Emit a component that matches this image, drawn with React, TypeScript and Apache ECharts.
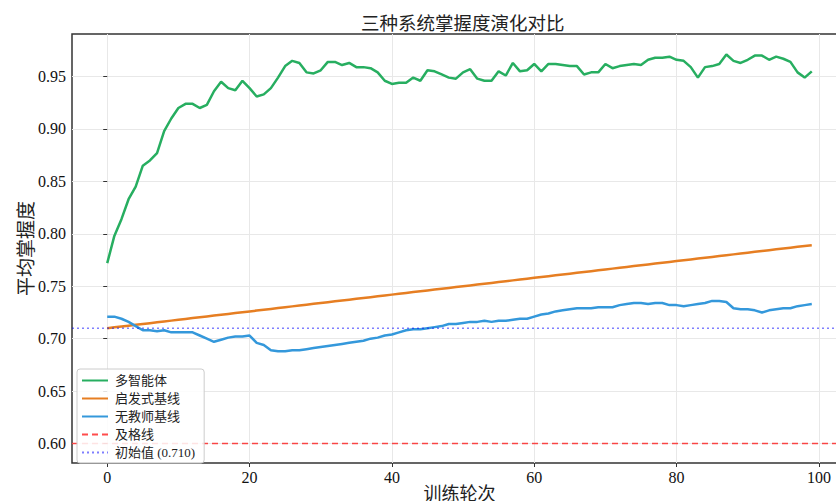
import React, { useEffect, useRef } from "react";
import * as echarts from "echarts";

const TITLE = "三种系统掌握度演化对比";
const X_NAME = "训练轮次";
const Y_NAME = "平均掌握度";
const X_TICKS = [0, 20, 40, 60, 80, 100];
const Y_TICKS = [0.6, 0.65, 0.7, 0.75, 0.8, 0.85, 0.9, 0.95];
const PASS_LINE = 0.6;
const INIT_VALUE = 0.71;

const multiAgent = [
  0.772, 0.798, 0.814, 0.833, 0.845, 0.865, 0.870, 0.877, 0.898, 0.910,
  0.920, 0.924, 0.924, 0.920, 0.923, 0.936, 0.945, 0.939, 0.937, 0.946,
  0.939, 0.931, 0.933, 0.939, 0.949, 0.960, 0.965, 0.963, 0.954, 0.953,
  0.956, 0.964, 0.964, 0.961, 0.963, 0.959, 0.959, 0.958, 0.954, 0.946,
  0.943, 0.944, 0.944, 0.949, 0.946, 0.956, 0.955, 0.952, 0.949, 0.948,
  0.954, 0.957, 0.948, 0.946, 0.946, 0.955, 0.951, 0.963, 0.955, 0.956,
  0.962, 0.955, 0.962, 0.962, 0.961, 0.960, 0.960, 0.952, 0.954, 0.954,
  0.962, 0.958, 0.960, 0.961, 0.962, 0.961, 0.966, 0.968, 0.968, 0.969,
  0.966, 0.965, 0.959, 0.949, 0.959, 0.960, 0.962, 0.971, 0.965, 0.963,
  0.966, 0.970, 0.970, 0.966, 0.969, 0.967, 0.964, 0.954, 0.949, 0.955,
];

const heuristic = [
  0.7100, 0.7108, 0.7116, 0.7124, 0.7132, 0.7140, 0.7148, 0.7156, 0.7164, 0.7172,
  0.7180, 0.7188, 0.7196, 0.7204, 0.7212, 0.7220, 0.7228, 0.7236, 0.7244, 0.7252,
  0.7260, 0.7268, 0.7276, 0.7284, 0.7292, 0.7300, 0.7308, 0.7316, 0.7324, 0.7332,
  0.7340, 0.7348, 0.7356, 0.7364, 0.7372, 0.7380, 0.7388, 0.7396, 0.7404, 0.7412,
  0.7420, 0.7428, 0.7436, 0.7444, 0.7452, 0.7460, 0.7468, 0.7476, 0.7484, 0.7492,
  0.7500, 0.7508, 0.7516, 0.7524, 0.7532, 0.7540, 0.7548, 0.7556, 0.7564, 0.7572,
  0.7580, 0.7588, 0.7596, 0.7604, 0.7612, 0.7620, 0.7628, 0.7636, 0.7644, 0.7652,
  0.7660, 0.7668, 0.7676, 0.7684, 0.7692, 0.7700, 0.7708, 0.7716, 0.7724, 0.7732,
  0.7740, 0.7748, 0.7756, 0.7764, 0.7772, 0.7780, 0.7788, 0.7796, 0.7804, 0.7812,
  0.7820, 0.7828, 0.7836, 0.7844, 0.7852, 0.7860, 0.7868, 0.7876, 0.7884, 0.7892,
];

const noTeacher = [
  0.721, 0.721, 0.719, 0.716, 0.712, 0.708, 0.708, 0.707, 0.708, 0.706,
  0.706, 0.706, 0.706, 0.703, 0.700, 0.697, 0.699, 0.701, 0.702, 0.702,
  0.703, 0.696, 0.694, 0.689, 0.688, 0.688, 0.689, 0.689, 0.690, 0.691,
  0.692, 0.693, 0.694, 0.695, 0.696, 0.697, 0.698, 0.700, 0.701, 0.703,
  0.704, 0.706, 0.708, 0.709, 0.709, 0.710, 0.711, 0.712, 0.714, 0.714,
  0.715, 0.716, 0.716, 0.717, 0.716, 0.717, 0.717, 0.718, 0.719, 0.719,
  0.721, 0.723, 0.724, 0.726, 0.727, 0.728, 0.729, 0.729, 0.729, 0.730,
  0.730, 0.730, 0.732, 0.733, 0.734, 0.734, 0.733, 0.734, 0.734, 0.732,
  0.732, 0.731, 0.732, 0.733, 0.734, 0.736, 0.736, 0.735, 0.729, 0.728,
  0.728, 0.727, 0.725, 0.727, 0.728, 0.729, 0.729, 0.731, 0.732, 0.733,
];

const X_MIN = -4.95;
const X_MAX = 103.95;
const Y_MIN = 0.5814;
const Y_MAX = 0.9906;

const SERIF = "'Liberation Serif', 'Times New Roman', 'Noto Sans CJK SC', serif";
const CJK = "'Noto Sans CJK SC', 'Liberation Serif', sans-serif";

export default function App() {
  const ref = useRef<HTMLDivElement>(null);
  useEffect(() => {
    document.body.style.margin = "0";
    document.body.style.overflow = "hidden";
    const chart = echarts.init(ref.current!, null, { renderer: "svg" });
    const toPairs = (arr: number[]) => arr.map((v, i) => [i, v]);
    const option: any = {
      animation: false,
      backgroundColor: "#ffffff",
      title: {
        text: TITLE,
        left: 356,
        top: 8,
        textStyle: { fontFamily: CJK, fontSize: 18.5, fontWeight: "normal", color: "#222" },
      },
      grid: {
        left: 72,
        top: 34,
        bottom: 38,
        right: 3,
        show: true,
        borderColor: "#333",
        borderWidth: 1.5,
        backgroundColor: "transparent",
        containLabel: false,
        outerBoundsMode: "none",
      },
      legend: {
        orient: "vertical",
        left: 77,
        top: 369,
        itemWidth: 26,
        itemHeight: 12,
        itemGap: 5,
        padding: [5, 9, 4, 4],
        backgroundColor: "rgba(255,255,255,0.85)",
        borderColor: "#cccccc",
        borderWidth: 1,
        borderRadius: 3,
        itemStyle: { opacity: 0 },
        textStyle: { fontFamily: SERIF, fontSize: 13, color: "#222", padding: [0, 0, 0, 2] },
        data: ["多智能体", "启发式基线", "无教师基线", "及格线", "初始值 (0.710)"],
      },
      xAxis: {
        type: "value",
        min: X_MIN,
        max: X_MAX,
        interval: 20,
        name: X_NAME,
        nameLocation: "middle",
        nameGap: 20,
        nameMoveOverlap: false,
        nameTextStyle: { fontFamily: CJK, fontSize: 18, color: "#222" },
        axisLine: { show: false },
        axisTick: { show: true, length: 4, customValues: X_TICKS, lineStyle: { color: "#333" } },
        axisLabel: {
          customValues: X_TICKS,
          margin: 6,
          fontFamily: SERIF,
          fontSize: 16,
          color: "#111",
        },
        splitLine: { show: true, lineStyle: { color: "#e8e8e8", width: 1 } },
      },
      yAxis: {
        type: "value",
        min: Y_MIN,
        max: Y_MAX,
        interval: 0.05,
        name: Y_NAME,
        nameLocation: "middle",
        nameGap: 38,
        nameMoveOverlap: false,
        nameTextStyle: { fontFamily: CJK, fontSize: 19, color: "#222" },
        axisLine: { show: false },
        axisTick: { show: true, length: 4, customValues: Y_TICKS, lineStyle: { color: "#333" } },
        axisLabel: {
          customValues: Y_TICKS,
          margin: 6,
          fontFamily: SERIF,
          fontSize: 16,
          color: "#111",
          formatter: (v: number) => v.toFixed(2),
        },
        splitLine: { show: true, lineStyle: { color: "#e8e8e8", width: 1 } },
      },
      series: [
        {
          name: "多智能体",
          type: "line",
          data: toPairs(multiAgent),
          showSymbol: false,
          symbol: "none",
          lineStyle: { color: "#27ae60", width: 2.5 },
          itemStyle: { color: "#27ae60" },
        },
        {
          name: "启发式基线",
          type: "line",
          data: toPairs(heuristic),
          showSymbol: false,
          symbol: "none",
          lineStyle: { color: "#e67e22", width: 2.5 },
          itemStyle: { color: "#e67e22" },
        },
        {
          name: "无教师基线",
          type: "line",
          data: toPairs(noTeacher),
          showSymbol: false,
          symbol: "none",
          lineStyle: { color: "#3498db", width: 2.5 },
          itemStyle: { color: "#3498db" },
        },
        {
          name: "及格线",
          type: "line",
          data: [[X_MIN, PASS_LINE], [X_MAX, PASS_LINE]],
          showSymbol: false,
          symbol: "none",
          lineStyle: { color: "rgba(255,0,0,0.7)", width: 1.6, type: [6, 4] },
          itemStyle: { color: "rgba(255,0,0,0.7)" },
        },
        {
          name: "初始值 (0.710)",
          type: "line",
          data: [[X_MIN, INIT_VALUE], [X_MAX, INIT_VALUE]],
          showSymbol: false,
          symbol: "none",
          lineStyle: { color: "rgba(0,0,255,0.5)", width: 1.6, type: [2, 3] },
          itemStyle: { color: "rgba(0,0,255,0.5)" },
        },
      ],
    };
    chart.setOption(option);
    return () => chart.dispose();
  }, []);
  return <div ref={ref} style={{ width: 850, height: 501 }} />;
}
